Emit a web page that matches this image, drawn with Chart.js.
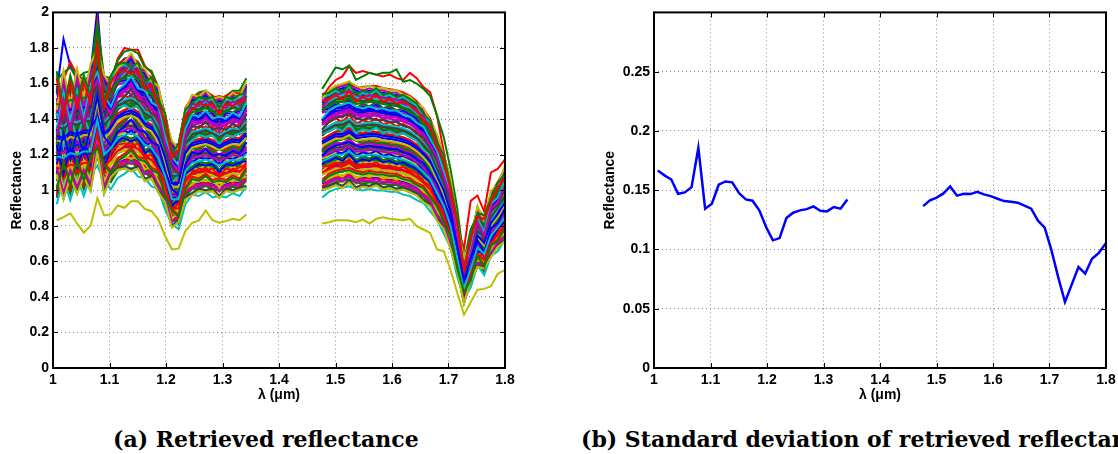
<!DOCTYPE html>
<html>
<head>
<meta charset="utf-8">
<script src="https://cdn.jsdelivr.net/npm/chart.js@4.4.1/dist/chart.umd.min.js"></script>
<style>
html,body{margin:0;padding:0;background:#fff;width:1118px;height:454px;overflow:hidden;position:relative;}
canvas{position:absolute;top:0;}
#ca{left:0;}
#cb{left:590px;}
.cap{position:absolute;top:427px;font-family:"DejaVu Serif",serif;font-weight:bold;font-size:22px;line-height:25px;white-space:nowrap;color:#000;}
</style>
</head>
<body>
<canvas id="ca" width="560" height="410"></canvas>
<canvas id="cb" width="560" height="410"></canvas>
<div class="cap" id="capa" style="left:113px;">(a) Retrieved reflectance</div>
<div class="cap" id="capb" style="left:581px;">(b) Standard deviation of retrieved reflectance</div>
<script>
// ---- data ----
const wavelengths = [
  1.0066,1.0186,1.0306,1.0426,1.0545,1.0665,1.0785,1.0905,1.1025,1.1145,
  1.1265,1.1384,1.1504,1.1624,1.1744,1.1864,1.1984,1.2104,1.2223,1.2343,
  1.2463,1.2583,1.2703,1.2823,1.2943,1.3062,1.3182,1.3302,1.3422,
  1.4100,
  1.4764,1.4884,1.5003,1.5123,1.5242,1.5362,1.5481,1.5601,1.5720,1.5840,
  1.5959,1.6079,1.6198,1.6318,1.6437,1.6557,1.6676,1.6796,1.6915,1.7035,
  1.7154,1.7274,1.7393,1.7513,1.7632,1.7752,1.7871,1.7991,1.8110
];
// three typical spectra from the centre of the bundle (null = removed water band)
const shapeA = [
  1.28,1.27,1.30,1.29,1.31,1.31,1.50,1.29,1.33,1.39,
  1.41,1.42,1.40,1.35,1.33,1.27,1.16,1.02,1.02,1.19,
  1.24,1.25,1.26,1.245,1.225,1.245,1.26,1.255,1.295,
  null,
  1.25,1.27,1.29,1.29,1.31,1.28,1.285,1.29,1.29,1.28,
  1.275,1.27,1.26,1.245,1.22,1.185,1.14,1.06,0.98,0.86,
  0.67,0.48,0.60,0.73,0.69,0.80,0.85,0.91,0.96
];
const shapeB = [
  1.18,1.36,1.21,1.37,1.24,1.39,1.46,1.34,1.29,1.37,
  1.40,1.44,1.38,1.37,1.31,1.29,1.14,1.04,1.00,1.18,
  1.25,1.24,1.27,1.23,1.24,1.23,1.26,1.24,1.31,
  null,
  1.23,1.27,1.29,1.30,1.31,1.29,1.28,1.29,1.28,1.28,
  1.27,1.27,1.25,1.24,1.21,1.19,1.13,1.07,0.97,0.87,
  0.66,0.50,0.58,0.74,0.67,0.81,0.84,0.92,0.95
];
const shapeC = [
  1.38,1.20,1.36,1.24,1.36,1.26,1.54,1.24,1.36,1.41,
  1.42,1.40,1.42,1.33,1.35,1.25,1.18,1.00,1.04,1.20,
  1.23,1.26,1.25,1.26,1.21,1.26,1.25,1.27,1.28,
  null,
  1.27,1.28,1.30,1.28,1.32,1.27,1.29,1.28,1.30,1.27,
  1.28,1.26,1.27,1.25,1.23,1.18,1.15,1.05,0.99,0.85,
  0.69,0.46,0.62,0.72,0.71,0.79,0.86,0.90,0.97
];
// relative level of each retrieved spectrum in the bundle
const spectrumLevels = [
  1.02,0.85,1.18,0.93,1.11,0.79,1.06,0.97,1.21,0.88,1.14,0.82,1.00,1.09,0.91,1.16,0.86,1.04,0.95,1.23,
  0.80,1.12,0.99,0.89,1.07,1.19,0.84,0.96,1.13,0.92,1.03,0.78,1.10,0.87,1.17,0.94,1.05,0.83,1.20,0.98,
  0.90,1.15,1.01,0.81,1.08,0.95,1.22,0.86,1.12,0.93,1.04,0.89,1.18,0.97,0.84,1.06,1.14,0.91,1.00,0.79,
  1.10,0.96,1.19,0.87,1.03,0.92,1.16,0.82,1.08,0.98,1.21,0.90,1.02,0.85,1.13,0.94,1.07,0.88,1.17,0.99,
  0.80,1.11,0.95,1.05,0.83,1.20,0.92,1.01,0.89,1.15,0.97,1.09,0.86,1.23,0.93,1.04,0.81,1.12,0.96,1.06
];
const greenTop = [
  1.62,1.66,1.69,1.63,1.66,1.67,1.93,1.64,1.63,1.73,1.78,1.79,1.77,1.69,1.67,1.58,1.42,1.25,1.26,1.45,
  1.52,1.55,1.56,1.53,1.50,1.53,1.56,1.56,1.63,
  null,
  1.57,1.63,1.69,1.68,1.70,1.62,1.64,1.66,1.65,1.66,1.66,1.68,1.61,1.62,1.60,1.57,1.53,1.42,1.30,1.12,
  0.90,0.60,0.78,0.86,0.78,0.95,1.00,1.05,1.08
];
const redTop = [
  1.50,1.62,1.72,1.65,1.62,1.62,1.95,1.58,1.60,1.74,1.80,1.79,1.79,1.70,1.66,1.57,1.38,1.24,1.22,1.40,
  1.50,1.53,1.54,1.52,1.53,1.52,1.55,1.52,1.58,
  null,
  1.52,1.58,1.62,1.64,1.70,1.66,1.67,1.66,1.65,1.64,1.65,1.63,1.62,1.66,1.63,1.58,1.55,1.42,1.22,0.98,
  0.80,0.67,0.94,0.97,0.88,1.10,1.12,1.17,1.20
];
const blueSpike = [
  1.55,1.85,1.70,1.62,1.60,1.66,2.02,1.55,1.60,1.70,1.74,1.75,1.71,1.62,1.58,1.50,1.35,1.20,1.18,1.40,
  1.46,1.47,1.47,1.46,1.44,1.45,1.47,1.46,1.53,
  null,
  1.45,1.50,1.53,1.56,1.59,1.53,1.55,1.54,1.55,1.52,1.50,1.50,1.48,1.46,1.45,1.40,1.32,1.20,1.05,0.90,
  0.72,0.52,0.68,0.85,0.80,0.92,0.98,1.05,1.10
];
const yellowLow = [
  0.831,0.848,0.870,0.813,0.761,0.800,0.955,0.858,0.864,0.914,0.901,0.938,0.938,0.895,0.882,0.835,0.742,0.667,0.672,0.770,
  0.817,0.830,0.886,0.831,0.817,0.826,0.839,0.831,0.863,
  null,
  0.813,0.820,0.831,0.831,0.830,0.820,0.835,0.813,0.839,0.848,0.839,0.835,0.831,0.839,0.798,0.779,0.760,0.667,0.657,0.554,
  0.423,0.300,0.370,0.440,0.445,0.460,0.530,0.550,0.570
];
const stdDev = [
  0.1666,0.1625,0.1590,0.1470,0.1481,0.1526,0.1858,0.1344,0.1386,0.1546,
  0.1574,0.1566,0.1476,0.1422,0.1411,0.1330,0.1190,0.1077,0.1096,0.1265,
  0.1310,0.1330,0.1340,0.1363,0.1327,0.1321,0.1358,0.1344,0.1422,
  null,
  0.1366,0.1414,0.1437,0.1473,0.1532,0.1454,0.1470,0.1467,0.1487,0.1465,
  0.1450,0.1428,0.1408,0.1403,0.1395,0.1369,0.1344,0.1243,0.1184,0.0992,
  0.0767,0.0557,0.0703,0.0852,0.0796,0.0922,0.0970,0.1049,0.1120
];
const xTicks = [1,1.1,1.2,1.3,1.4,1.5,1.6,1.7,1.8];
const xTickLabels = ['1','1.1','1.2','1.3','1.4','1.5','1.6','1.7','1.8'];
const yTicksA = [0,0.2,0.4,0.6,0.8,1,1.2,1.4,1.6,1.8,2];
const yTickLabelsA = ['0','0.2','0.4','0.6','0.8','1','1.2','1.4','1.6','1.8','2'];
const yTicksB = [0,0.05,0.1,0.15,0.2,0.25];
const yTickLabelsB = ['0','0.05','0.1','0.15','0.2','0.25'];
const seriesColors = ['#0000ff','#008000','#ff0000','#00bfbf','#bf00bf','#bfbf00','#404040'];

// ---- chart helpers ----
const tickFont = {family:'"Liberation Sans", Arial, sans-serif', weight:'bold', size:14};
const boxPlugin = {
  id:'matlabBox',
  afterDraw(chart){
    const {ctx, chartArea:{left,right,top,bottom}, scales:{x,y}} = chart;
    ctx.save();
    ctx.strokeStyle = '#000';
    ctx.lineWidth = 1;
    const L = 5;
    ctx.beginPath();
    x.ticks.forEach(t=>{
      const px = Math.round(x.getPixelForValue(t.value)) + 0.5;
      ctx.moveTo(px,bottom); ctx.lineTo(px,bottom-L);
      ctx.moveTo(px,top); ctx.lineTo(px,top+L);
    });
    y.ticks.forEach(t=>{
      const py = Math.round(y.getPixelForValue(t.value)) + 0.5;
      ctx.moveTo(left,py); ctx.lineTo(left+L,py);
      ctx.moveTo(right,py); ctx.lineTo(right-L,py);
    });
    ctx.stroke();
    ctx.lineWidth = 2;
    ctx.strokeRect(left,top,right-left,bottom-top);
    ctx.restore();
  }
};
function makeOptions(yMax, yTicks, yLabels, yWidth, yTitlePad, rightPad){
  return {
    responsive:false, animation:false, devicePixelRatio:1,
    layout:{padding:{top:12,right:rightPad,left:0,bottom:0}},
    plugins:{legend:{display:false}, tooltip:{enabled:false}},
    elements:{point:{radius:0}, line:{tension:0}},
    scales:{
      x:{type:'linear', min:1, max:1.8,
         afterBuildTicks:s=>{ s.ticks = xTicks.map(v=>({value:v})); },
         ticks:{callback:(v,i)=>xTickLabels[i], font:tickFont, color:'#000', padding:4, maxRotation:0, autoSkip:false},
         grid:{color:'#8a8a8a', lineWidth:1, drawTicks:false},
         border:{display:false, dash:[1,3]},
         title:{display:true, text:'λ (μm)', font:tickFont, color:'#000', padding:{top:0,bottom:6}},
         afterFit:s=>{ s.height = 42; }
      },
      y:{type:'linear', min:0, max:yMax,
         afterBuildTicks:s=>{ s.ticks = yTicks.map(v=>({value:v})); },
         ticks:{callback:(v,i)=>yLabels[i], font:tickFont, color:'#000', padding:4, autoSkip:false},
         grid:{color:'#8a8a8a', lineWidth:1, drawTicks:false},
         border:{display:false, dash:[1,3]},
         title:{display:true, text:'Reflectance', font:tickFont, color:'#000', padding:{top:yTitlePad,bottom:0}},
         afterFit:s=>{ s.width = yWidth; }
      }
    }
  };
}
function toPoints(vals){ return wavelengths.map((w,j)=>({x:w, y:vals[j]})); }

// ---- (a) retrieved reflectance ----
const bundleShapes = [shapeA, shapeB, shapeC];
const datasetsA = spectrumLevels.map((lv,i)=>({
  data: toPoints(bundleShapes[i % 3].map(v => v===null ? null : v*lv)),
  borderColor: seriesColors[i % seriesColors.length],
  borderWidth: 2, spanGaps:false, fill:false
}));
[[greenTop,'#008000'],[redTop,'#ff0000'],[blueSpike,'#0000ff'],[yellowLow,'#bfbf00']].forEach(([vals,col])=>{
  datasetsA.push({data:toPoints(vals), borderColor:col, borderWidth:2, spanGaps:false, fill:false});
});
new Chart(document.getElementById('ca'), {
  type:'line',
  data:{datasets:datasetsA},
  options: makeOptions(2, yTicksA, yTickLabelsA, 53, 9, 55),
  plugins:[boxPlugin]
});

// ---- (b) standard deviation ----
new Chart(document.getElementById('cb'), {
  type:'line',
  data:{datasets:[{data:toPoints(stdDev), borderColor:'#0000ff', borderWidth:2.5, spanGaps:false, fill:false}]},
  options: makeOptions(0.3, yTicksB, yTickLabelsB, 64, 12, 44),
  plugins:[boxPlugin]
});
</script>
</body>
</html>
